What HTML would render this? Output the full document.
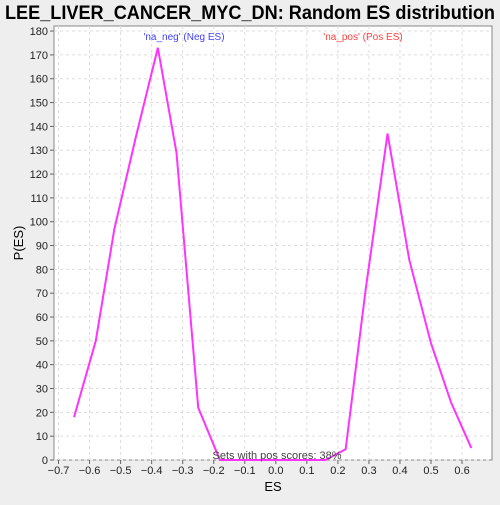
<!DOCTYPE html>
<html><head><meta charset="utf-8"><style>
body{margin:0;background:#eeeeee;width:500px;height:500px;overflow:hidden;font-family:"Liberation Sans",sans-serif}
</style></head><body>
<svg width="500" height="500">
<text x="250" y="19" text-anchor="middle" font-size="19" font-weight="bold" fill="#000" textLength="490" lengthAdjust="spacingAndGlyphs">LEE_LIVER_CANCER_MYC_DN: Random ES distribution</text>
<rect x="54" y="26" width="438" height="434" fill="#fff" stroke="#888"/>
<g id="grid"></g><g id="axes"></g>
<polyline id="line" fill="none" stroke="#ff33ff" stroke-width="2"/>
<text x="184" y="40" text-anchor="middle" font-size="10" fill="#4040ff">'na_neg' (Neg ES)</text>
<text x="363" y="40" text-anchor="middle" font-size="10" fill="#ff4040">'na_pos' (Pos ES)</text>
<text x="277" y="459" text-anchor="middle" font-size="11" fill="#444">Sets with pos scores: 38%</text>
<text x="273" y="491" text-anchor="middle" font-size="13" fill="#000">ES</text>
<text x="23" y="243" text-anchor="middle" font-size="13" fill="#000" transform="rotate(-90 23 243)">P(ES)</text>
</svg>
<script>
const xs=[-0.65,-0.58,-0.52,-0.45,-0.38,-0.32,-0.25,-0.18,0.16,0.225,0.29,0.36,0.43,0.50,0.565,0.63];
const ys=[18,50,97,136,173,129,22,0,0,4.5,72,137,84,49,24,5];
const xTicks=[-0.7,-0.6,-0.5,-0.4,-0.3,-0.2,-0.1,0.0,0.1,0.2,0.3,0.4,0.5,0.6];
const yTicks=[0,10,20,30,40,50,60,70,80,90,100,110,120,130,140,150,160,170,180];
const X=v=>275.8+v*310.4, Y=v=>460-v*2.383;
const ns="http://www.w3.org/2000/svg";
const g=document.getElementById('grid'),a=document.getElementById('axes');
function mk(p,t,at){const e=document.createElementNS(ns,t);for(const k in at)e.setAttribute(k,at[k]);p.appendChild(e);return e;}
xTicks.forEach(t=>{const x=X(t);
const l=mk(g,'line',{x1:x,x2:x,y1:26,y2:460,stroke:'#ddd','stroke-dasharray':'3,3'});


const tk=mk(a,'line',{x1:x,x2:x,y1:460,y2:464,stroke:'#666'});


const tx=mk(a,'text',{x:x,y:474,'text-anchor':'middle','font-size':'11',fill:'#222'});
tx.textContent=t.toFixed(1).replace('-','−');

});
yTicks.forEach(t=>{const y=Y(t);
const l=mk(g,'line',{x1:54,x2:492,y1:y,y2:y,stroke:'#ddd','stroke-dasharray':'3,3'});


const tk=mk(a,'line',{x1:50,x2:54,y1:y,y2:y,stroke:'#666'});


const tx=mk(a,'text',{x:48,y:y+4,'text-anchor':'end','font-size':'11',fill:'#222'});
tx.textContent=t;

});
document.getElementById('line').setAttribute('points',xs.map((v,i)=>X(v)+','+Y(ys[i])).join(' '));
</script>
</body></html>
